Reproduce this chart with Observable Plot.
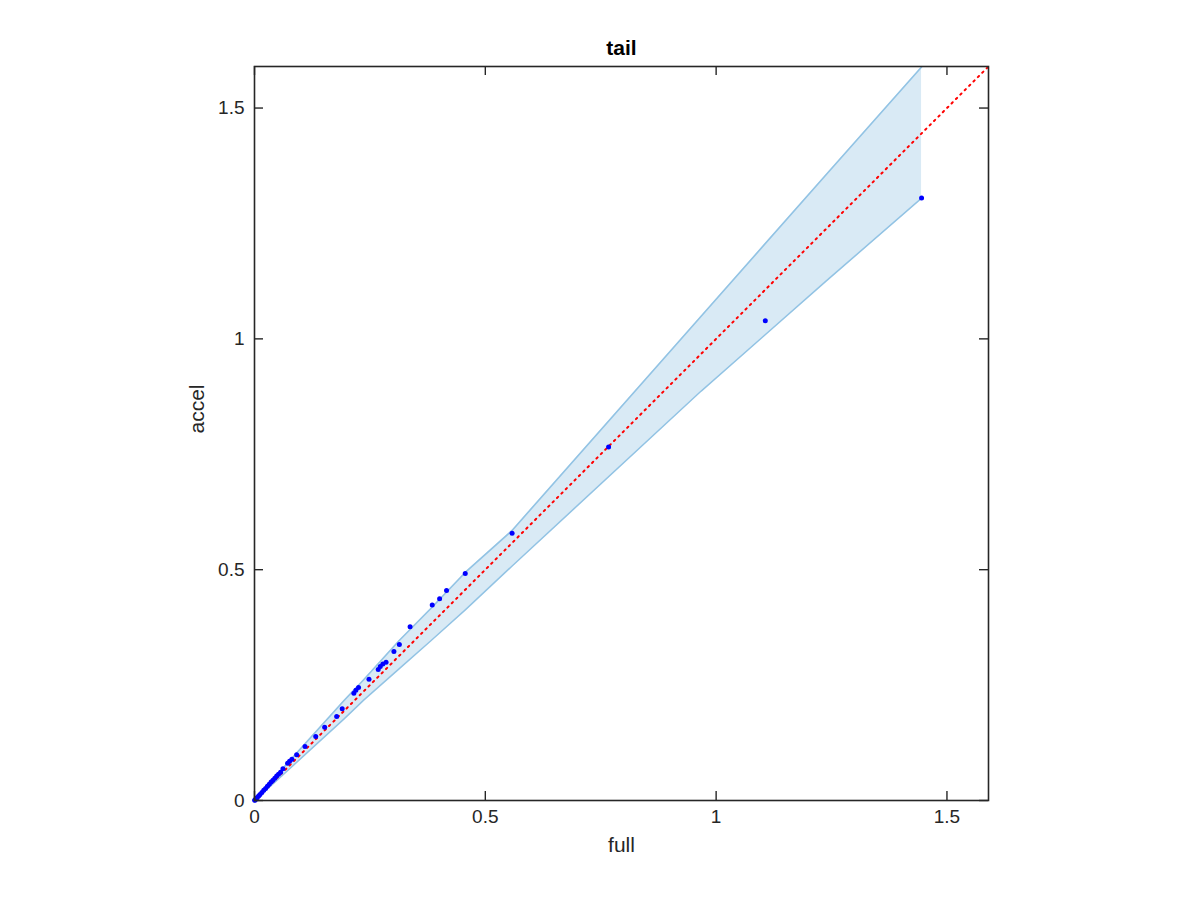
<!DOCTYPE html>
<html>
<head>
<meta charset="utf-8">
<script src="https://cdn.jsdelivr.net/npm/d3@7"></script>
<script src="https://cdn.jsdelivr.net/npm/@observablehq/plot@0.6"></script>
<style>
  html, body { margin: 0; padding: 0; background: #fff; }
  #chart { width: 1200px; height: 900px; }
</style>
</head>
<body>
<div id="chart"></div>
<script>
// ---- data ----
const titleText = "tail";
const xLabelText = "full";
const yLabelText = "accel";
const tickValues = [0, 0.5, 1, 1.5];
const axisDomain = [0, 1.59];

// scatter points (full, accel)
const fullVals = [1.445, 1.1065, 0.767, 0.558, 0.4565, 0.416, 0.401, 0.385, 0.337, 0.3138,
  0.302, 0.285, 0.278, 0.2725, 0.268, 0.248, 0.2254, 0.2196, 0.2152, 0.190,
  0.178, 0.152, 0.1326, 0.1094, 0.0913, 0.081, 0.076, 0.0717, 0.0616, 0.0565,
  0.052, 0.048, 0.044, 0.040, 0.036, 0.032, 0.028, 0.024, 0.020, 0.016,
  0.012, 0.009, 0.006, 0.004, 0.002, 0.001, 0.0005];
const accelVals = [1.305, 1.039, 0.766, 0.579, 0.492, 0.455, 0.437, 0.4235, 0.3766, 0.338,
  0.323, 0.2994, 0.2955, 0.2905, 0.284, 0.2626, 0.2446, 0.2388, 0.2323, 0.199,
  0.182, 0.1587, 0.1385, 0.1169, 0.0989, 0.0894, 0.085, 0.0807, 0.0686, 0.0613,
  0.057, 0.053, 0.048, 0.044, 0.040, 0.035, 0.031, 0.026, 0.022, 0.0175,
  0.013, 0.0098, 0.0065, 0.0043, 0.0022, 0.001, 0.0005];

// confidence band
const bandX     = [0, 0.05, 0.194, 0.237, 0.313, 0.382, 0.4565, 0.558, 0.9675, 1.2386, 1.445];
const bandLower = [0, 0.045, 0.177, 0.218, 0.285, 0.346, 0.413, 0.508, 0.887, 1.1255, 1.305];
const bandUpper = [0, 0.057, 0.2165, 0.262, 0.346, 0.416, 0.494, 0.585, 1.049, 1.356, 1.589];

// identity reference line endpoints
const refLine = [0, 1.59];

// ---- build ----
const points = fullVals.map((f, i) => ({full: f, accel: accelVals[i]}));
const band = bandX.map((x, i) => ({x, lo: bandLower[i], hi: bandUpper[i]}));

const W = 1200, H = 900, mL = 254, mR = 212, mT = 66, mB = 100;
const plotW = W - mL - mR, plotH = H - mT - mB;
const tickLen = 9;
const axisColor = "#262626";
const edgeColor = "rgb(146,195,228)";

const chart = Plot.plot({
  width: W, height: H,
  marginLeft: mL, marginRight: mR, marginTop: mT, marginBottom: mB,
  x: {domain: axisDomain},
  y: {domain: axisDomain},
  style: {fontFamily: "'Liberation Sans', Arial, Helvetica, sans-serif", fontSize: "19px", color: axisColor, background: "white", overflow: "visible"},
  marks: [
    Plot.areaY(band, {x: "x", y1: "lo", y2: "hi", fill: "rgb(217,234,245)"}),
    Plot.line(band, {x: "x", y: "lo", stroke: edgeColor, strokeWidth: 1.6}),
    Plot.line(band, {x: "x", y: "hi", stroke: edgeColor, strokeWidth: 1.6}),
    Plot.line(refLine, {x: d => d, y: d => d, stroke: "red", strokeWidth: 2, strokeDasharray: "1.6,4.6"}),
    Plot.dot(points, {x: "full", y: "accel", r: 2.5, fill: "blue", stroke: null}),
    Plot.frame({stroke: axisColor, strokeWidth: 1.6}),
    Plot.tickX(tickValues, {x: d => d, insetTop: plotH - tickLen, stroke: axisColor, strokeWidth: 1.4}),
    Plot.tickX(tickValues, {x: d => d, insetBottom: plotH - tickLen, stroke: axisColor, strokeWidth: 1.4}),
    Plot.tickY(tickValues, {y: d => d, insetRight: plotW - tickLen, stroke: axisColor, strokeWidth: 1.4}),
    Plot.tickY(tickValues, {y: d => d, insetLeft: plotW - tickLen, stroke: axisColor, strokeWidth: 1.4}),
    Plot.axisX({ticks: tickValues, tickSize: 0, tickPadding: 9, tickFormat: d => String(d), label: null, fontSize: 19}),
    Plot.axisY({ticks: tickValues, tickSize: 0, tickPadding: 10, tickFormat: d => String(d), label: null, fontSize: 19}),
    Plot.text([xLabelText], {frameAnchor: "bottom", dy: 51, text: d => d, fontSize: 21, fill: axisColor}),
    Plot.text([yLabelText], {frameAnchor: "left", dx: -57, rotate: -90, text: d => d, fontSize: 21, fill: axisColor}),
    Plot.text([titleText], {frameAnchor: "top", dy: -26, text: d => d, fontSize: 21, fontWeight: "bold", fill: "#000"})
  ]
});
document.getElementById("chart").appendChild(chart);
</script>
</body>
</html>
